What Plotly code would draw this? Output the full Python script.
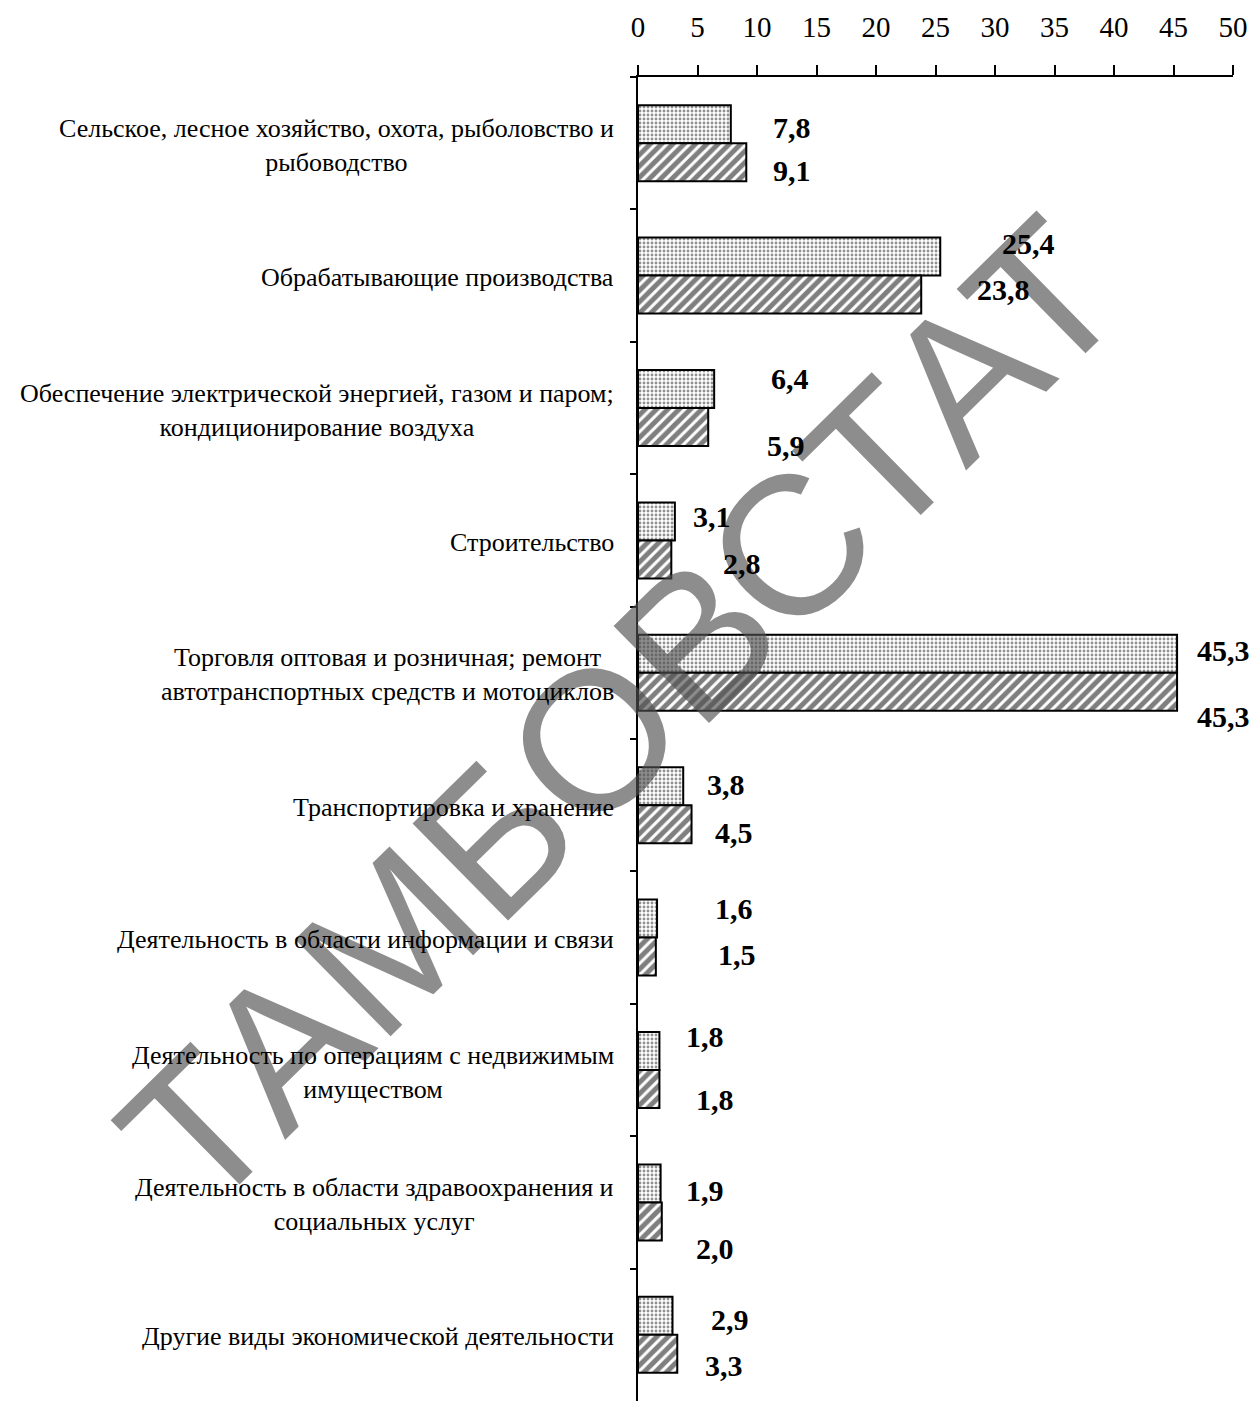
import plotly.graph_objects as go

categories = [
    "Сельское, лесное хозяйство, охота, рыболовство и<br>рыбоводство",
    "Обрабатывающие производства",
    "Обеспечение электрической энергией, газом и паром;<br>кондиционирование воздуха",
    "Строительство",
    "Торговля оптовая и розничная; ремонт<br>автотранспортных средств и мотоциклов",
    "Транспортировка и хранение",
    "Деятельность в области информации и связи",
    "Деятельность по операциям с недвижимым<br>имуществом",
    "Деятельность в области здравоохранения и<br>социальных услуг",
    "Другие виды экономической деятельности",
]
series_dotted = [7.8, 25.4, 6.4, 3.1, 45.3, 3.8, 1.6, 1.8, 1.9, 2.9]
series_hatched = [9.1, 23.8, 5.9, 2.8, 45.3, 4.5, 1.5, 1.8, 2.0, 3.3]
x_ticks = [0, 5, 10, 15, 20, 25, 30, 35, 40, 45, 50]

# label placement (data-unit offset from bar end, pixel shift from category centre)
dotted_dx = [5.1, 7.4, 6.4, 3.1, 3.9, 3.6, 6.5, 3.8, 3.7, 4.8]
dotted_dy = [16, 32, 30, 24, 22, 21, 29, 34, 12, 15]
hatched_dx = [3.8, 6.9, 6.5, 5.9, 3.9, 3.6, 6.8, 4.7, 4.5, 3.9]
hatched_dy = [-27, -14, -37, -23, -44, -27, -17, -29, -46, -31]

SERIF = "Liberation Serif, Times New Roman, serif"

fig = go.Figure()
fig.add_trace(go.Bar(
    y=categories, x=series_dotted, orientation="h",
    marker=dict(color="white", line=dict(color="black", width=2),
                pattern=dict(shape=".", fgcolor="#222", bgcolor="white", size=4, solidity=0.4)),
    showlegend=False, hoverinfo="skip",
))
fig.add_trace(go.Bar(
    y=categories, x=series_hatched, orientation="h",
    marker=dict(color="white", line=dict(color="black", width=2),
                pattern=dict(shape="/", fgcolor="black", bgcolor="white", size=8, solidity=0.62)),
    showlegend=False, hoverinfo="skip",
))

annotations = []
# watermark first so value labels sit on top of it
annotations.append(dict(
    text="ТАМБОВСТАТ", xref="paper", yref="paper", x=-0.028, y=0.519,
    xanchor="center", yanchor="middle",
    showarrow=False, textangle=-44.5,
    font=dict(family="Liberation Sans, Arial, sans-serif", size=198, color="rgba(80,80,80,0.65)"),
))

def fmt(v):
    return f"{v:.1f}".replace(".", ",")

for i, c in enumerate(categories):
    annotations.append(dict(
        text=c, xref="paper", yref="y", x=0, y=c, xshift=-22, yshift=-2,
        xanchor="right", align="center", showarrow=False,
        font=dict(family=SERIF, size=26, color="black"),
    ))
    annotations.append(dict(
        text="<b>" + fmt(series_dotted[i]) + "</b>", xref="x", yref="y",
        x=series_dotted[i] + dotted_dx[i], y=c, yshift=dotted_dy[i],
        showarrow=False, xanchor="center",
        font=dict(family=SERIF, size=30, color="black"),
    ))
    annotations.append(dict(
        text="<b>" + fmt(series_hatched[i]) + "</b>", xref="x", yref="y",
        x=series_hatched[i] + hatched_dx[i], y=c, yshift=hatched_dy[i],
        showarrow=False, xanchor="center",
        font=dict(family=SERIF, size=30, color="black"),
    ))

fig.update_layout(
    width=1249, height=1401,
    margin=dict(l=638, r=16, t=77, b=0),
    paper_bgcolor="white", plot_bgcolor="white",
    barmode="group", bargap=0.426, bargroupgap=0,
    annotations=annotations,
    xaxis=dict(
        side="top", range=[0, 50], tickvals=x_ticks, ticktext=[str(t) for t in x_ticks],
        ticks="outside", ticklen=10, tickwidth=2, tickcolor="black",
        showline=True, linecolor="black", linewidth=2,
        showgrid=False, zeroline=False,
        tickfont=dict(family=SERIF, size=29, color="black"),
        ticklabelstandoff=16,
    ),
    yaxis=dict(
        type="category", categoryorder="array", categoryarray=categories,
        autorange="reversed",
        showline=True, linecolor="black", linewidth=2,
        ticks="outside", tickson="boundaries", ticklen=6, tickwidth=2, tickcolor="black",
        showticklabels=False, showgrid=False, zeroline=False,
    ),
)

fig.write_html(
    "out.html",
    config={"displayModeBar": False},
    post_script="document.body.style.margin='0px';document.body.style.overflow='hidden';",
)
